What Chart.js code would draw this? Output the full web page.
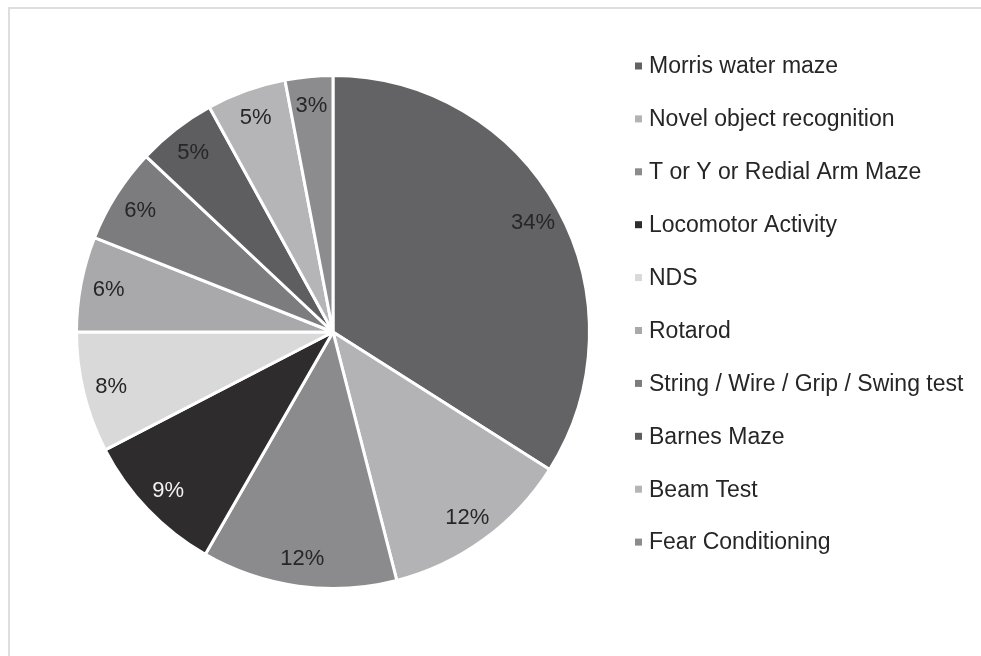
<!DOCTYPE html>
<html>
<head>
<meta charset="utf-8">
<title>Behavioural tests</title>
<script src="https://cdn.jsdelivr.net/npm/chart.js@4.4.1/dist/chart.umd.min.js"></script>
<style>
  html, body { margin: 0; padding: 0; background: #fff; }
  #wrap { position: relative; width: 981px; height: 656px; overflow: hidden; }
  #frame {
    position: absolute; left: 8px; top: 7px; width: 1200px; height: 900px;
    border-top: 2px solid #dedede; border-left: 2px solid #dedede;
    box-sizing: border-box;
  }
  #pieChart { position: absolute; left: 0; top: 0; }
</style>
</head>
<body>
<div id="wrap">
  <div id="frame"></div>
  <canvas id="pieChart" width="981" height="656"></canvas>
</div>
<script>
// share of studies using each test, in percent
const categories = [
  'Morris water maze',
  'Novel object recognition',
  'T or Y or Redial Arm Maze',
  'Locomotor Activity',
  'NDS',
  'Rotarod',
  'String / Wire / Grip / Swing test',
  'Barnes Maze',
  'Beam Test',
  'Fear Conditioning'
];
const shares = [34, 12, 12.3, 9.1, 7.6, 6, 6, 5, 5, 3];
const sliceColors = [
  '#636365', '#b3b3b5', '#8b8b8d', '#2e2c2d', '#d9d9da',
  '#a9a9ab', '#7c7c7e', '#5e5e60', '#b5b5b7', '#8c8c8e'
];
const labelColors = [
  '#262626', '#262626', '#262626', '#f2f2f2', '#262626',
  '#262626', '#262626', '#262626', '#262626', '#262626'
];

const FONT = '"Liberation Sans", Arial, sans-serif';

// percentage text inside each slice
const sliceLabels = {
  id: 'sliceLabels',
  afterDatasetsDraw(chart) {
    const { ctx } = chart;
    const meta = chart.getDatasetMeta(0);
    const data = chart.data.datasets[0].data;
    const total = data.reduce((a, b) => a + b, 0);
    ctx.save();
    ctx.font = '22px ' + FONT;
    ctx.textAlign = 'center';
    ctx.textBaseline = 'middle';
    meta.data.forEach((arc, i) => {
      const p = arc.getProps(['x', 'y', 'startAngle', 'endAngle', 'outerRadius'], true);
      const mid = (p.startAngle + p.endAngle) / 2;
      const r = p.outerRadius * 0.89;
      ctx.fillStyle = labelColors[i];
      ctx.fillText(Math.round(data[i] / total * 100) + '%',
        p.x + Math.cos(mid) * r, p.y + Math.sin(mid) * r + 1);
    });
    ctx.restore();
  }
};

// legend column on the right
const sideLegend = {
  id: 'sideLegend',
  afterDraw(chart) {
    const { ctx } = chart;
    const ds = chart.data.datasets[0];
    const x0 = 635, y0 = 66, step = 52.9, box = 7;
    ctx.save();
    ctx.font = '23px ' + FONT;
    ctx.textBaseline = 'middle';
    chart.data.labels.forEach((lab, i) => {
      const y = y0 + i * step;
      ctx.fillStyle = ds.backgroundColor[i];
      ctx.fillRect(x0, y - box / 2, box, box);
      ctx.fillStyle = '#262626';
      ctx.fillText(lab, x0 + 14, y + 1);
    });
    ctx.restore();
  }
};

const chart = new Chart(document.getElementById('pieChart').getContext('2d'), {
  type: 'pie',
  data: {
    labels: categories,
    datasets: [{
      data: shares,
      backgroundColor: sliceColors,
      borderColor: '#ffffff',
      borderWidth: 3,
      hoverOffset: 0
    }]
  },
  options: {
    responsive: false,
    animation: false,
    events: [],
    layout: { padding: { left: 75, right: 390, top: 74, bottom: 66 } },
    plugins: {
      legend: { display: false },
      tooltip: { enabled: false }
    }
  },
  plugins: [sliceLabels, sideLegend]
});
</script>
</body>
</html>
